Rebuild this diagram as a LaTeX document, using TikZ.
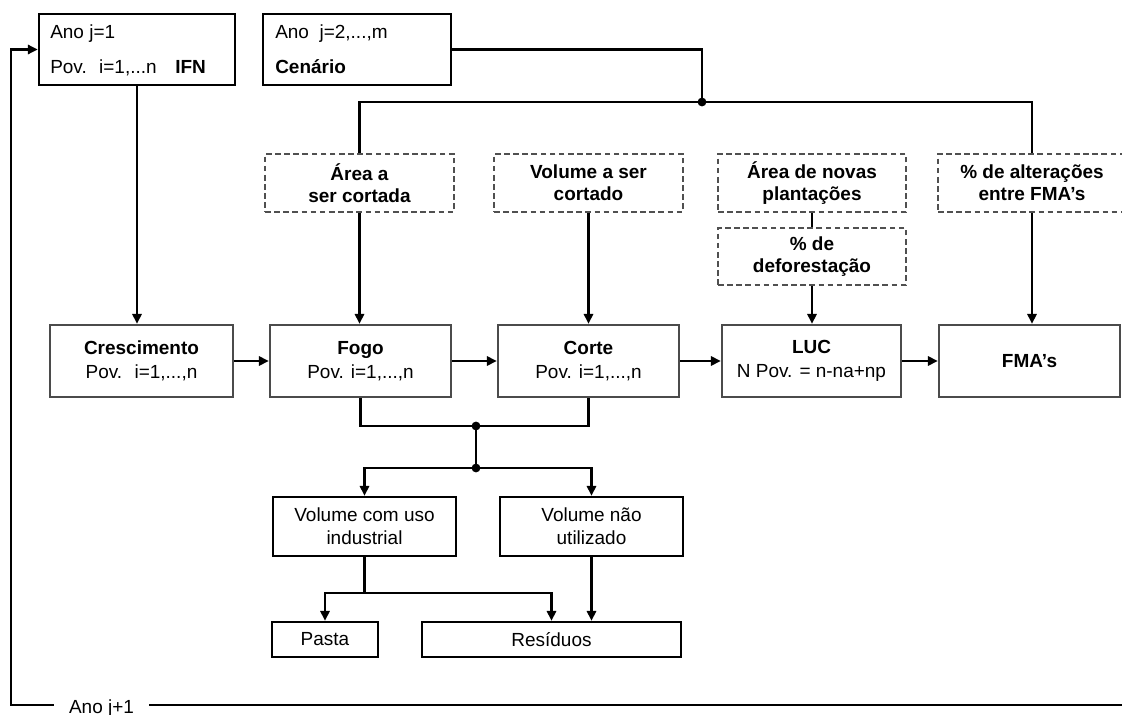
\documentclass[tikz,border=0pt]{standalone}
\usepackage{fontspec}
\setmainfont{Liberation Sans}
\usetikzlibrary{arrows.meta}
\definecolor{boxline}{RGB}{75,75,75}
\definecolor{dashline}{RGB}{80,80,80}

\begin{document}
\begin{tikzpicture}[x=0.25mm, y=-0.25mm,
    font=\fontsize{13.5}{17.5}\selectfont,
    every node/.style={inner sep=0pt},
    conn/.style={line width=1.8pt, black},
    arr/.style={conn, -{Triangle[length=7pt,width=6.5pt]}},
    topbox/.style={draw=black, line width=1.8pt, minimum height=17.75mm},
    modbox/.style={draw=boxline, line width=1.7pt, align=center, minimum height=18mm},
    scenbox/.style={draw=dashline, line width=1pt, dash pattern=on 4pt off 2.5pt,
        align=center, font=\fontsize{13.5}{15.5}\selectfont\bfseries},
    outbox/.style={draw=black, line width=1.7pt, align=center, font=\fontsize{13.5}{16.5}\selectfont}
]
    \useasboundingbox (0,0) rectangle (1122,715);

    % === Top: inventory and scenario ===
    \node[topbox, minimum width=49mm] (ifn) at (137,49.5) {};
    \node[anchor=base west] (ifnano) at (50,39) {Ano j=1};
    \node[anchor=base west] (ifnpov) at (50,74) {Pov.~ i=1,...n};
    \node[anchor=base west, font=\fontsize{13.5}{15.5}\selectfont\bfseries] (ifnlab) at (175,74) {IFN};

    \node[topbox, minimum width=47mm] (cen) at (357,49.5) {};
    \node[anchor=base west] (cenano) at (275,39) {Ano~ j=2,...,m};
    \node[anchor=base west, font=\fontsize{13.5}{15.5}\selectfont\bfseries] (cenlab) at (275,74) {Cenário};

    % === Scenario inputs ===
    \node[scenbox, minimum width=47.25mm, minimum height=14.5mm] (area) at (359.5,183) {Área a\\ser cortada};
    \node[scenbox, minimum width=47.25mm, minimum height=14.5mm] (vol) at (588.5,183) {Volume a ser\\cortado};
    \node[scenbox, minimum width=47mm, minimum height=14.5mm] (novas) at (812,183) {Área de novas\\plantações};
    \node[scenbox, minimum width=47mm, minimum height=14.25mm] (defor) at (812,256.5) {\% de\\deforestação};
    \node[scenbox, minimum width=47mm, minimum height=14.5mm] (alter) at (1032,183) {\% de alterações\\entre FMA’s};

    % === Modules ===
    \node[modbox, minimum width=45.75mm] (cres) at (141.5,361) {\textbf{Crescimento}\\Pov.~ i=1,...,n};
    \node[modbox, minimum width=45.25mm] (fogo) at (360.5,361) {\textbf{Fogo}\\Pov. i=1,...,n};
    \node[modbox, minimum width=45.25mm] (corte) at (588.5,361) {\textbf{Corte}\\Pov. i=1,...,n};
    \node[modbox, minimum width=44.75mm] (luc) at (811.5,361) {\textbf{LUC}\\N Pov. = n-na+np};
    \node[modbox, minimum width=45.25mm] (fma) at (1029.5,361) {\textbf{FMA’s}};

    % === Outputs ===
    \node[outbox, minimum width=45.75mm, minimum height=14.75mm] (vind) at (364.5,526.5) {Volume com uso\\industrial};
    \node[outbox, minimum width=45.75mm, minimum height=14.75mm] (vnao) at (591.5,526.5) {Volume não\\utilizado};
    \node[outbox, minimum width=26.5mm, minimum height=8.75mm] (pasta) at (325,639.5) {Pasta};
    \node[outbox, minimum width=64.75mm, minimum height=8.75mm] (resid) at (551.5,639.5) {Resíduos};

    % junctions
    \coordinate (j1) at (702,102);
    \coordinate (j2) at (476,426);
    \coordinate (j3) at (476,468);
    \coordinate (j4) at (364.5,593);
    \coordinate (lp) at (11,705);
    \coordinate (rb) at (1125,705);

    % scenario distribution
    \draw[conn] (cen.east) -| (j1);
    \draw[conn] (area.north) |- (j1) -| (alter.north);
    \draw[arr] (area.south) -- (area.south |- fogo.north);
    \draw[arr] (vol.south) -- (vol.south |- corte.north);
    \draw[conn] (novas.south) -- (defor.north);
    \draw[arr] (defor.south) -- (defor.south |- luc.north);
    \draw[arr] (alter.south) -- (alter.south |- fma.north);

    % module chain
    \draw[arr] (ifn.south) -- (ifn.south |- cres.north);
    \draw[arr] (cres.east) -- (fogo.west);
    \draw[arr] (fogo.east) -- (corte.west);
    \draw[arr] (corte.east) -- (luc.west);
    \draw[arr] (luc.east) -- (fma.west);

    % harvested volume
    \draw[conn] (fogo.south) |- (j2) -| (corte.south);
    \draw[conn] (j2) -- (j3);
    \draw[arr] (j3) -| (vind.north);
    \draw[arr] (j3) -| (vnao.north);
    \draw[conn] (vind.south) -- (j4);
    \draw[arr] (j4) -| (pasta.north);
    \draw[arr] (j4) -| (resid.north);
    \draw[arr] (vnao.south) -- (vnao.south |- resid.north);

    \fill (j1) circle (1.1mm);
    \fill (j2) circle (1.1mm);
    \fill (j3) circle (1.1mm);

    % === Next year loop ===
    \node[anchor=base, inner xsep=3.75mm] (ano) at (101.5,713) {Ano j+1};
    \draw[arr] (ano.west |- lp) -- (lp) |- (ifn.west);
    \draw[conn] (ano.east |- lp) -- (rb);
\end{tikzpicture}
\end{document}
